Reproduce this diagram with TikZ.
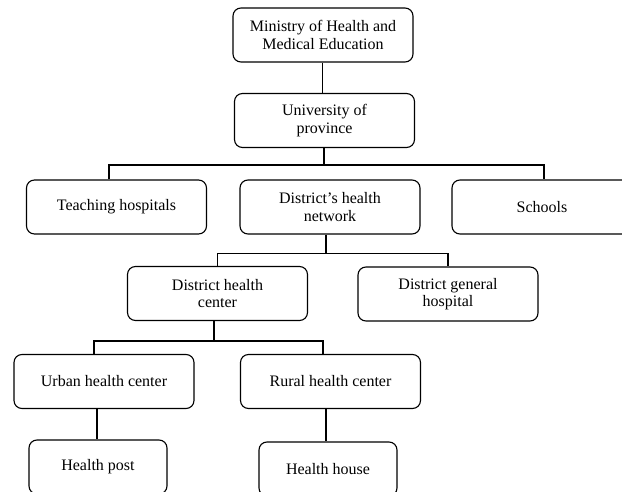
\documentclass[tikz,border=0pt]{standalone}
\usepackage{fontspec}
\setmainfont{Liberation Serif}
\usepackage{tikz}

\begin{document}
\begin{tikzpicture}[x=1pt,y=-1pt,
    unit/.style={draw,line width=1.1pt,rounded corners=8pt,align=center,
      minimum width=180pt,minimum height=54pt,inner sep=0pt,
      font=\fontsize{16}{17.5}\selectfont},
    smallunit/.style={unit,minimum width=138pt},
    link/.style={line width=1.1pt}]
  \useasboundingbox (0,0) rectangle (622,492);
  \clip (0,0) rectangle (622,492);
  % Boxes
  \node[unit] (min) at (323,35) {Ministry of Health and\\Medical Education};
  \node[unit] (uni) at (324.5,120.5) {University of\\province};
  \node[unit] (teach) at (116.5,207) {Teaching hospitals};
  \node[unit] (net) at (330,207) {District’s health\\network};
  \node[unit] (schools) at (542,207) {Schools};
  \node[unit] (dhc) at (217.5,293.5) {District health\\center};
  \node[unit] (dgh) at (448,294) {District general\\hospital};
  \node[unit] (urban) at (104,381.5) {Urban health center};
  \node[unit] (rural) at (330.5,381.5) {Rural health center};
  \node[smallunit] (post) at (98,467) {Health post};
  \node[smallunit] (house) at (328,469) {Health house};
  % Junctions
  \coordinate (j0) at (322.5,80);
  \coordinate (j1) at (324,165);
  \coordinate (j2) at (326,253.5);
  \coordinate (j3) at (214,341);
  \coordinate (j4) at (97,400);
  \coordinate (j5) at (326,400);
  % Connectors
  \draw[link] (min.south -| j0) -- (uni.north -| j0);
  \draw[link] (uni.south -| j1) -- (j1);
  \draw[link] ([xshift=-7.5pt]teach.north) |- (j1) -| ([xshift=2pt]schools.north);
  \draw[link] (net.south -| j2) -- (j2);
  \draw[link] (dhc.north) |- (j2) -| (dgh.north);
  \draw[link] (dhc.south -| j3) -- (j3);
  \draw[link] ([xshift=-10pt]urban.north) |- (j3) -| ([xshift=-7.5pt]rural.north);
  \draw[link] (urban.south -| j4) -- (post.north -| j4);
  \draw[link] (rural.south -| j5) -- (house.north -| j5);
\end{tikzpicture}
\end{document}
